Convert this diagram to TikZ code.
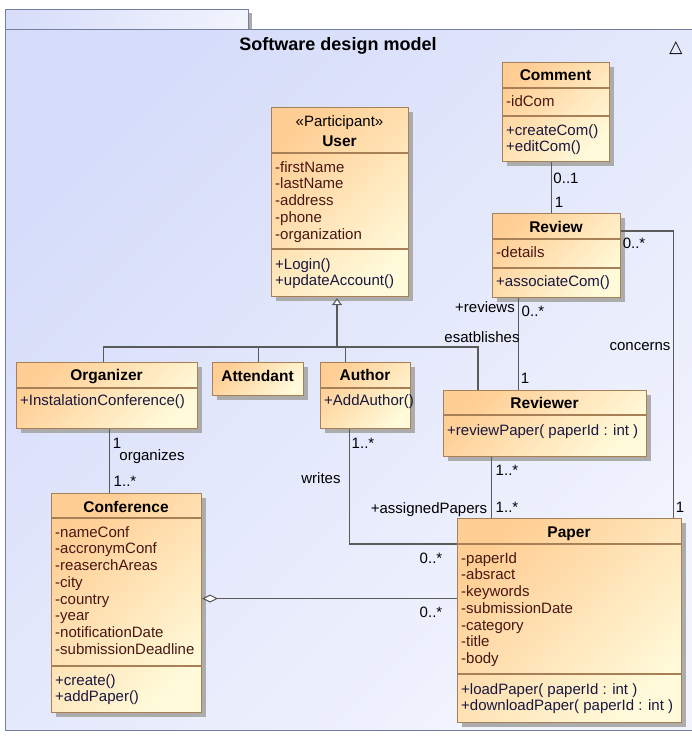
\documentclass[tikz,border=0pt]{standalone}
\usepackage{fontspec}
\setmainfont{Liberation Sans}
\newfontfamily\symfont{DejaVu Sans}
\usetikzlibrary{arrows.meta,shadows}
\definecolor{pkgA}{RGB}{214,221,250}
\definecolor{pkgB}{RGB}{242,244,253}
\definecolor{pkgline}{RGB}{118,126,160}
\definecolor{clsA}{RGB}{255,206,148}
\definecolor{clsB}{RGB}{255,250,218}
\definecolor{clsline}{RGB}{168,128,88}
\definecolor{attrtext}{RGB}{70,24,20}
\definecolor{optext}{RGB}{24,24,64}
\definecolor{assocline}{RGB}{90,90,90}
\definecolor{shadowgray}{RGB}{172,172,172}
\begin{document}
\begin{tikzpicture}[x=1pt,y=-1pt]
          \tikzstyle{every node}=[font=\fontsize{15}{16.75}\selectfont, inner sep=0pt];
          \tikzstyle{cls}=[draw=clsline, line width=1.1pt, top color=clsA, bottom color=clsB, shading angle=45, anchor=north west, drop shadow={shadow xshift=4pt, shadow yshift=-4pt, fill=shadowgray, opacity=1}];
          \tikzstyle{hdr}=[anchor=base, font=\fontsize{15.5}{16.75}\selectfont\bfseries];
          \tikzstyle{attr}=[anchor=north west, align=left, text=attrtext];
          \tikzstyle{oper}=[anchor=north west, align=left, text=optext];
          \tikzstyle{sep}=[draw=clsline, line width=1.1pt];
          \tikzstyle{assoc}=[draw=assocline, line width=1.1pt];
          \useasboundingbox (0,0) rectangle (691,736);
          %package frame
          \draw[draw=pkgline, line width=1pt, left color=pkgA, right color=pkgB, drop shadow={shadow xshift=4pt, shadow yshift=-4pt, fill=shadowgray, opacity=1}] (5,9) rectangle (248,29);
          \draw[draw=pkgline, line width=1pt, top color=pkgA, bottom color=pkgB, shading angle=45] (5,29) rectangle (705,730);
          \node[font=\fontsize{18}{20}\selectfont\bfseries] (title) at (338,46) {Software design model};
          \node[font=\fontsize{17}{19}\symfont] (collapse) at (676,48) {△};
          %\node[cls, minimum width=w, minimum height=h] (name) at (x,y) {};
          \node[cls, minimum width=137, minimum height=189] (user) at (271,107) {};
          \node[anchor=base] (userS) at (339.5,126) {«Participant»};
          \node[hdr] (userN) at (339.5,146) {User};
          \draw[sep] (271,153) -- (408,153);
          \node[attr] (userA) at (275,160.3) {\strut-firstName\\-lastName\\-address\\-phone\\-organization};
          \draw[sep] (271,249) -- (408,249);
          \node[oper] (userO) at (275,257.3) {\strut+Login()\\+updateAccount()};
          \node[cls, minimum width=107, minimum height=99] (comment) at (502,62) {};
          \node[hdr] (commentN) at (555.5,80) {Comment};
          \draw[sep] (502,88) -- (609,88);
          \node[attr] (commentA) at (506,94.3) {\strut-idCom};
          \draw[sep] (502,116) -- (609,116);
          \node[oper] (commentO) at (506,123.3) {\strut+createCom()\\+editCom()};
          \node[cls, minimum width=128, minimum height=84] (review) at (492,213) {};
          \node[hdr] (reviewN) at (556,232) {Review};
          \draw[sep] (492,239) -- (620,239);
          \node[attr] (reviewA) at (496,245.3) {\strut-details};
          \draw[sep] (492,268) -- (620,268);
          \node[oper] (reviewO) at (496,274.3) {\strut+associateCom()};
          \node[cls, minimum width=181, minimum height=66] (organizer) at (16,362) {};
          \node[hdr] (organizerN) at (106.5,380) {Organizer};
          \draw[sep] (16,388) -- (197,388);
          \node[oper] (organizerO) at (20,393.3) {\strut+InstalationConference()};
          \node[cls, minimum width=91, minimum height=33] (attendant) at (212,362) {};
          \node[hdr] (attendantN) at (257.5,381) {Attendant};
          \node[cls, minimum width=90, minimum height=66] (author) at (320,362) {};
          \node[hdr] (authorN) at (365,380) {Author};
          \draw[sep] (320,388) -- (410,388);
          \node[oper] (authorO) at (324,393.3) {\strut+AddAuthor()};
          \node[cls, minimum width=203, minimum height=66] (reviewer) at (443,390) {};
          \node[hdr] (reviewerN) at (544.5,408) {Reviewer};
          \draw[sep] (443,415) -- (646,415);
          \node[oper] (reviewerO) at (447,423.3) {\strut+reviewPaper( paperId : int )};
          \node[cls, minimum width=150, minimum height=219] (conference) at (51,493) {};
          \node[hdr] (conferenceN) at (126,512) {Conference};
          \draw[sep] (51,518) -- (201,518);
          \node[attr] (conferenceA) at (55,525.3) {\strut-nameConf\\-accronymConf\\-reaserchAreas\\-city\\-country\\-year\\-notificationDate\\-submissionDeadline};
          \draw[sep] (51,666) -- (201,666);
          \node[oper] (conferenceO) at (55,673.3) {\strut+create()\\+addPaper()};
          \node[cls, minimum width=224, minimum height=204] (paper) at (457,518) {};
          \node[hdr] (paperN) at (569,537) {Paper};
          \draw[sep] (457,544) -- (681,544);
          \node[attr] (paperA) at (461,551.3) {\strut-paperId\\-absract\\-keywords\\-submissionDate\\-category\\-title\\-body};
          \draw[sep] (457,674) -- (681,674);
          \node[oper] (paperO) at (461,682.3) {\strut+loadPaper( paperId : int )\\+downloadPaper( paperId : int )};
          %generalization
          \coordinate (gen) at (337,347);
          \coordinate (genR) at (478,347);
          \draw[assoc] ([xshift=-3.5]organizer.north) |- (genR) -- (genR |- reviewer.north);
          \draw[assoc] (attendant.north) -- (attendant.north |- gen);
          \draw[assoc] ([xshift=-20]author.north) -- ([xshift=-20]author.north |- gen);
          \draw[assoc, -{Triangle[open, fill=white, length=7pt, width=10pt]}] (gen) -- ([yshift=-1]gen |- user.south);
          %associations
          \draw[assoc] ([xshift=-4.5]comment.south) -- ([xshift=-4.5]comment.south |- review.north);
          \draw[assoc] ([xshift=-38]review.south) -- ([xshift=-38]review.south |- reviewer.north);
          \draw[assoc] ([yshift=-18]review.north east) -| ([xshift=-9]paper.north east);
          \draw[assoc] ([xshift=-53.5]reviewer.south) -- ([xshift=-53.5]reviewer.south |- paper.north);
          \draw[assoc] ([xshift=-16]author.south) |- ([yshift=-26]paper.north west);
          \draw[assoc] ([xshift=2.5]organizer.south) -- ([xshift=2.5]organizer.south |- conference.north);
          \draw[assoc, {Diamond[open, fill=white, length=16pt, width=8pt]}-] ([yshift=4.5]conference.east) -- ([yshift=4.5]conference.east -| paper.west);
          %labels
          \node (commentM) at (566,178) {0..1};
          \node (reviewMC) at (559,202) {1};
          \node (reviewsR) at (485,307) {+reviews};
          \node (reviewMR) at (533,311) {0..*};
          \node (establishes) at (482,337) {esatblishes};
          \node (reviewerMR) at (525,378) {1};
          \node (reviewMP) at (634,243) {0..*};
          \node (concerns) at (640,347) {concerns};
          \node (paperMR) at (680,507) {1};
          \node (reviewerMP) at (507,470) {1..*};
          \node (paperMRv) at (507,507) {1..*};
          \node (assigned) at (429,510) {+assignedPapers};
          \node (authorMP) at (363,443) {1..*};
          \node (writes) at (321,478) {writes};
          \node (paperMA) at (431,558) {0..*};
          \node (organizerMC) at (117,443) {1};
          \node (organizes) at (152,457) {organizes};
          \node (conferenceMO) at (125,481) {1..*};
          \node (paperMC) at (431,612) {0..*};
      \end{tikzpicture}
\end{document}
